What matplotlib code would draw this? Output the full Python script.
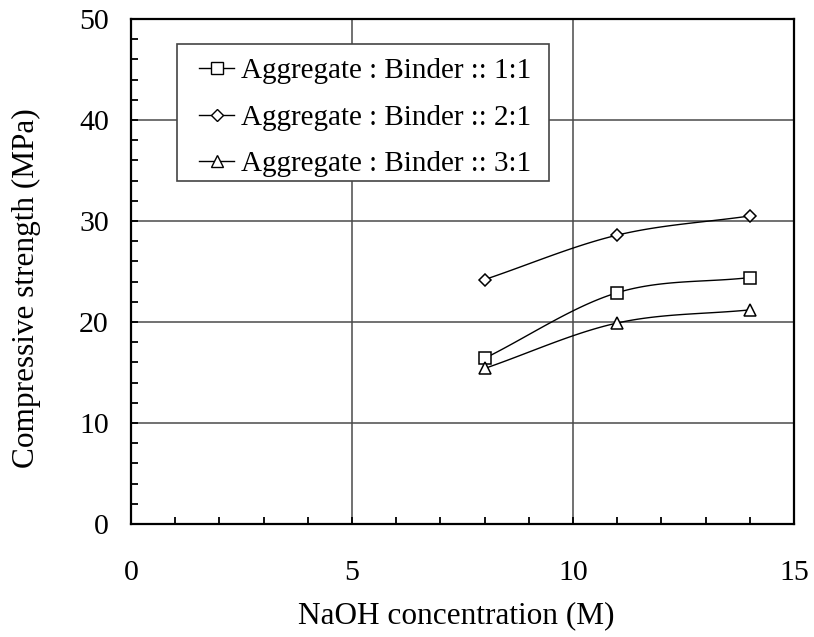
import numpy as np
import matplotlib
matplotlib.use("Agg")
import matplotlib.pyplot as plt
from matplotlib.ticker import MultipleLocator
from matplotlib.patches import Rectangle

plt.rcParams['font.family'] = ['Liberation Serif', 'DejaVu Serif']

naoh = [8, 11, 14]
ratio_1_1 = [16.4, 22.9, 24.4]
ratio_2_1 = [24.2, 28.6, 30.5]
ratio_3_1 = [15.4, 19.9, 21.2]
labels = ["Aggregate : Binder :: 1:1", "Aggregate : Binder :: 2:1", "Aggregate : Binder :: 3:1"]
markers = ['s', 'D', '^']
msizes = [8.6, 5.8, 8.3]


def smooth(x, y, n=40):
    # Catmull-Rom rendering of the line through the data points
    x = np.asarray(x, float); y = np.asarray(y, float)
    px = np.concatenate([[2 * x[0] - x[1]], x, [2 * x[-1] - x[-2]]])
    py = np.concatenate([[2 * y[0] - y[1]], y, [2 * y[-1] - y[-2]]])
    xs, ys = [], []
    for i in range(1, len(px) - 2):
        t = np.linspace(0, 1, n)
        for P, out in ((px, xs), (py, ys)):
            p0, p1, p2, p3 = P[i - 1], P[i], P[i + 1], P[i + 2]
            out.extend(0.5 * ((2 * p1) + (-p0 + p2) * t + (2 * p0 - 5 * p1 + 4 * p2 - p3) * t ** 2
                              + (-p0 + 3 * p1 - 3 * p2 + p3) * t ** 3))
    return np.array(xs), np.array(ys)


fig = plt.figure(figsize=(8.14, 6.37), dpi=100)
ax = fig.add_axes([131 / 814, 113 / 637, 663 / 814, 505 / 637])

for ys, m, ms, lab in zip([ratio_1_1, ratio_2_1, ratio_3_1], markers, msizes, labels):
    sx, sy = smooth(naoh, ys)
    ax.plot(sx, sy, color='black', lw=1.0, zorder=3)
    ax.plot(naoh, ys, linestyle='none', marker=m, ms=ms, mfc='white', mec='black', mew=1.1, zorder=4)
    ax.plot([], [], color='black', lw=1.0, marker=m, ms=ms, mfc='white', mec='black', mew=1.0, label=lab)

ax.set_xlim(0, 15)
ax.set_ylim(0, 50)
ax.xaxis.set_major_locator(MultipleLocator(5))
ax.xaxis.set_minor_locator(MultipleLocator(1))
ax.yaxis.set_major_locator(MultipleLocator(10))
ax.yaxis.set_minor_locator(MultipleLocator(2))
ax.grid(True, which='major', color='#4a4a4a', lw=1.1)
ax.set_axisbelow(True)
ax.tick_params(which='both', direction='in', labelsize=21.5, width=1.3, color='black')
ax.tick_params(which='both', length=5)
ax.tick_params(axis='x', which='major', pad=26)
ax.tick_params(axis='y', which='major', pad=16)
for s in ax.spines.values():
    s.set_linewidth(1.6)
    s.set_color('black')

ax.set_xlabel("NaOH concentration (M)", fontsize=22.5)
ax.set_ylabel("Compressive strength (MPa)", fontsize=22.5)
ax.xaxis.set_label_coords(0.49, -0.152)
ax.yaxis.set_label_coords(-0.135, 0.468)

# legend frame
ax.add_patch(Rectangle((0.0694, 0.679), 0.5611, 0.2715, transform=ax.transAxes,
                       facecolor='white', edgecolor='#444444', lw=1.2, zorder=5))
leg = ax.legend(loc='upper left', bbox_to_anchor=(0.1026, 0.923), fontsize=21, frameon=False,
                handlelength=1.2, handletextpad=0.24, borderpad=0, labelspacing=0.69,
                borderaxespad=0)
leg.set_zorder(6)

fig.savefig("out.png", dpi=100)
